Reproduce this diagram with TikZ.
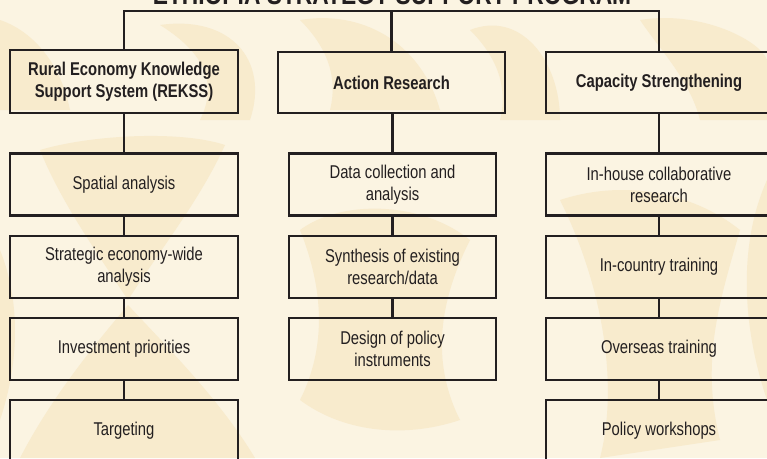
\documentclass[tikz,border=0pt]{standalone}
\usepackage{fontspec}
\setmainfont{Liberation Sans}[FakeStretch=0.8]
\definecolor{bgc}{HTML}{FBF4E2}
\definecolor{patt}{HTML}{F8EBCD}
\definecolor{ink}{HTML}{231F20}
\tikzset{
  box/.style={draw=ink, line width=2.5pt, minimum height=62pt, align=center, inner sep=0pt,
    font=\fontsize{18.5}{22}\selectfont, text=ink},
  headbox/.style={box, font=\fontsize{18.5}{22}\selectfont\bfseries},
  link/.style={draw=ink, line width=2.5pt},
  blob/.style={fill=patt, draw=none}
}
\begin{document}
\begin{tikzpicture}[x=1pt,y=-1pt]
\fill[bgc] (0,0) rectangle (767,458);
\useasboundingbox (0,0) rectangle (767,458);
\clip (0,0) rectangle (767,458);
% faint background pattern
\fill[blob] (40,150) .. controls (90,135) and (180,130) .. (225,145) .. controls (200,200) and (160,250) .. (128,300) .. controls (95,250) and (60,200) .. (40,150) -- cycle;
\fill[blob] (128,305) .. controls (170,350) and (220,400) .. (255,458) -- (20,458) .. controls (50,400) and (90,350) .. (128,305) -- cycle;
\fill[blob] (0,20) .. controls (30,30) and (60,60) .. (70,110) -- (0,110) -- cycle;
\fill[blob] (160,25) .. controls (230,15) and (270,60) .. (250,120) -- (200,120) .. controls (220,80) and (200,50) .. (160,25) -- cycle;
\fill[blob] (300,20) .. controls (360,10) and (420,40) .. (440,110) -- (330,110) .. controls (340,70) and (320,40) .. (300,20) -- cycle;
\fill[blob] (470,30) .. controls (520,10) and (560,60) .. (560,120) -- (500,120) .. controls (510,80) and (490,50) .. (470,30) -- cycle;
\fill[blob] (640,20) .. controls (700,10) and (760,40) .. (767,60) -- (767,120) -- (700,120) .. controls (690,80) and (660,50) .. (640,20) -- cycle;
\fill[blob] (300,230) .. controls (340,200) and (420,200) .. (470,240) .. controls (440,300) and (430,360) .. (460,420) .. controls (400,440) and (340,430) .. (300,400) .. controls (330,340) and (320,280) .. (300,230) -- cycle;
\fill[blob] (560,200) .. controls (620,180) and (690,190) .. (740,230) .. controls (720,300) and (700,360) .. (720,440) -- (600,458) .. controls (620,380) and (600,280) .. (560,200) -- cycle;
\fill[blob] (0,250) .. controls (20,300) and (20,360) .. (0,420) -- cycle;
\fill[blob] (767,180) .. controls (740,240) and (740,320) .. (767,400) -- cycle;
% title
\node[font=\fontsize{28.5}{30}\selectfont\bfseries, text=ink, anchor=base] (title) at (392,4) {ETHIOPIA STRATEGY SUPPORT PROGRAM};
% headers
\node[headbox, minimum width=228pt, minimum height=63pt] (h1) at (124,81.5) {Rural Economy Knowledge\\Support System (REKSS)};
\node[headbox, minimum width=227pt, minimum height=61pt] (h2) at (391.5,82.5) {Action Research};
\node[headbox, minimum width=226pt, minimum height=61pt] (h3) at (659,82.5) {Capacity Strengthening};
% column 1
\node[box, minimum width=228pt] (a1) at (124,184.5) {Spatial analysis};
\node[box, minimum width=228pt] (a2) at (124,267) {Strategic economy-wide\\analysis};
\node[box, minimum width=228pt] (a3) at (124,349) {Investment priorities};
\node[box, minimum width=228pt] (a4) at (124,431) {Targeting};
% column 2
\node[box, minimum width=207pt] (b1) at (392.5,184.5) {Data collection and\\analysis};
\node[box, minimum width=207pt] (b2) at (392.5,267) {Synthesis of existing\\research/data};
\node[box, minimum width=207pt] (b3) at (392.5,349) {Design of policy\\instruments};
% column 3
\node[box, minimum width=226pt] (c1) at (659,184.5) {In-house collaborative\\research};
\node[box, minimum width=226pt] (c2) at (659,267) {In-country training};
\node[box, minimum width=226pt] (c3) at (659,349) {Overseas training};
\node[box, minimum width=226pt] (c4) at (659,431) {Policy workshops};
% top connector
\coordinate (tl) at (125,11);
\draw[link] (h1.north) -- (h1.north |- tl) -- (h3.north |- tl) -- (h3.north);
\draw[link] (h2.north) -- (h2.north |- tl);
% column connectors
\draw[link] (h1.south) -- (a1.north);
\draw[link] (a1.south) -- (a2.north);
\draw[link] (a2.south) -- (a3.north);
\draw[link] (a3.south) -- (a4.north);
\draw[link] (b1.north) -- (b1.north |- h2.south);
\draw[link] (b1.south) -- (b2.north);
\draw[link] (b2.south) -- (b3.north);
\draw[link] (h3.south) -- (c1.north);
\draw[link] (c1.south) -- (c2.north);
\draw[link] (c2.south) -- (c3.north);
\draw[link] (c3.south) -- (c4.north);
\end{tikzpicture}
\end{document}
